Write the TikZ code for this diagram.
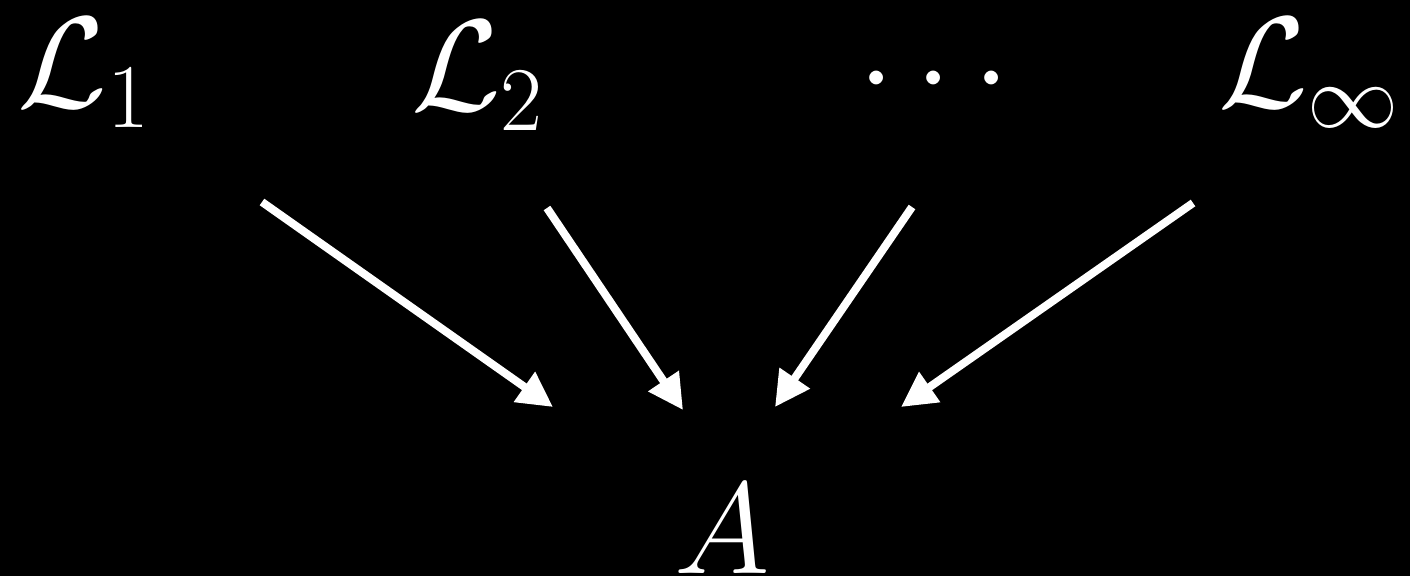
\RequirePackage{fix-cm}
\documentclass[tikz,border=0pt]{standalone}
\usetikzlibrary{arrows.meta}
\begin{document}
\begin{tikzpicture}[x=0.01cm,y=-0.01cm,
  lbl/.style={text=white,inner sep=0pt,outer sep=0pt,anchor=base west,font=\fontsize{37}{45}\selectfont},
  conn/.style={draw=white,line width=0.08cm,-{Triangle[length=0.35cm,width=0.35cm]}}]
\fill[black] (0,0) rectangle (1410,576);
\useasboundingbox (0,0) rectangle (1410,576);
\node[lbl] (L1) at (18,108) {$\mathcal{L}_1$};
\node[lbl] (L2) at (411,111) {$\mathcal{L}_2$};
\node[lbl,anchor=center] (dots) at (934,82) {$\cdots$};
\node[lbl] (Linf) at (1218,108) {$\mathcal{L}_\infty$};
\node[lbl] (A) at (674,573) {$A$};
\coordinate (s1) at (262,202); \coordinate (e1) at (553,407);
\coordinate (s2) at (547,208); \coordinate (e2) at (683,410);
\coordinate (s3) at (912,207); \coordinate (e3) at (775,407);
\coordinate (s4) at (1193,203); \coordinate (e4) at (901,407);
\draw[conn] (s1) -- (e1);
\draw[conn] (s2) -- (e2);
\draw[conn] (s3) -- (e3);
\draw[conn] (s4) -- (e4);
\end{tikzpicture}
\end{document}
